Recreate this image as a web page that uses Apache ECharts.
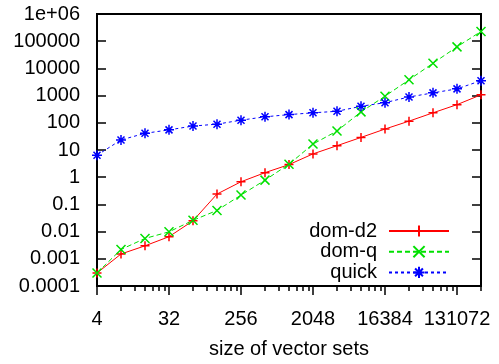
<!DOCTYPE html>
<html><head><meta charset="utf-8">
<script src="https://cdn.jsdelivr.net/npm/echarts@6/dist/echarts.min.js"></script>
<style>html,body{margin:0;padding:0;background:#fff}#c{width:499px;height:364px}</style>
</head><body><div id="c"></div>
<script>
var sizes = [4,8,16,32,64,128,256,512,1024,2048,4096,8192,16384,32768,65536,131072,262144];
var domD2 = [0.0003,0.0015,0.003,0.0065,0.025,0.24,0.68,1.47,2.9,7.2,14.4,29,59,115,233,465,1070];
var domQ  = [0.0003,0.0022,0.0056,0.0098,0.026,0.06,0.22,0.78,3.0,16.5,50,252,950,3800,15500,62000,229000];
var quick = [6.4,23.5,41,55,76,89,125,166,200,233,265,405,550,890,1260,1770,3530];
var xTickValues = [4,32,256,2048,16384,131072];
var xTickLabels = ['4','32','256','2048','16384','131072'];
var yTickValues = [1e-4,1e-3,1e-2,1e-1,1,10,100,1000,1e4,1e5,1e6];
var yTickLabels = ['0.0001','0.001','0.01','0.1','1','10','100','1000','10000','100000','1e+06'];
var seriesNames = ['dom-d2','dom-q','quick'];

var xMinor = [];
xTickValues.forEach(function(b){ for (var k=2;k<=7;k++){ var v=b*k; if (v<=262144) xMinor.push(v);} });

var FONT = '"Liberation Sans", Arial, sans-serif';
var PLUS = 'path://M0,5 L10,5 M5,0 L5,10';
var CROSS = 'path://M0,0 L10,10 M0,10 L10,0';
var STAR = 'path://M0,5 L10,5 M5,0 L5,10 M1.5,1.5 L8.5,8.5 M1.5,8.5 L8.5,1.5';

function mk(name, data, color, sym, dash, size){
  return {
    name: name, type: 'line', xAxisIndex: 0, yAxisIndex: 0,
    data: sizes.map(function(s,i){return [s, data[i]];}),
    symbol: sym, symbolSize: size, showSymbol: true,
    lineStyle: {color: color, width: 1, type: dash},
    itemStyle: {color: 'rgba(0,0,0,0)', borderColor: color, borderWidth: 1.5},
    emphasis: {disabled: true}, animation: false
  };
}

var chart = echarts.init(document.getElementById('c'), null, {renderer: 'canvas'});
chart.setOption({
  animation: false,
  grid: {left: 97, right: 18, top: 14, bottom: 74, show: true, borderColor: '#000', borderWidth: 2, backgroundColor: 'transparent'},
  legend: {
    orient: 'vertical', right: 44, top: 216, align: 'right',
    itemWidth: 60, itemHeight: 14, itemGap: 0.7,
    data: seriesNames,
    textStyle: {fontFamily: FONT, fontSize: 20, color: '#000', padding: [0, 7, 0, 0], lineHeight: 20},
    selectedMode: false
  },
  xAxis: [{
    type: 'log', logBase: 2, min: 4, max: 262144,
    axisLine: {show: false},
    axisTick: {show: true, inside: false, length: 9, lineStyle: {color: '#000', width: 1.5}, customValues: xTickValues},
    axisLabel: {customValues: xTickValues, margin: 23, fontFamily: FONT, fontSize: 20, color: '#000',
      formatter: function(v){ var i = xTickValues.indexOf(Math.round(v)); return i>=0 ? xTickLabels[i] : ''; }},
    splitLine: {show: false},
    name: 'size of vector sets', nameLocation: 'middle', nameGap: 53,
    nameTextStyle: {fontFamily: FONT, fontSize: 20, color: '#000'}
  },{
    type: 'log', logBase: 2, min: 4, max: 262144, position: 'bottom',
    axisLine: {show: false},
    axisTick: {show: true, inside: false, length: 5, lineStyle: {color: '#000', width: 1.5}, customValues: xMinor},
    axisLabel: {show: false}, splitLine: {show: false}
  }],
  yAxis: [{
    type: 'log', logBase: 10, min: 1e-4, max: 1e6,
    axisLine: {show: false},
    axisTick: {show: true, inside: true, length: 9, lineStyle: {color: '#000', width: 1.5}, customValues: yTickValues},
    axisLabel: {customValues: yTickValues, margin: 17, fontFamily: FONT, fontSize: 20, color: '#000',
      formatter: function(v){ var e = Math.round(Math.log10(v)); return yTickLabels[e+4]; }},
    splitLine: {show: false}
  },{
    type: 'log', logBase: 10, min: 1e-4, max: 1e6, position: 'right',
    axisLine: {show: false},
    axisTick: {show: true, inside: true, length: 9, lineStyle: {color: '#000', width: 1.5}, customValues: yTickValues},
    axisLabel: {show: false}, splitLine: {show: false}
  }],
  series: [
    mk('dom-d2', domD2, '#ff0000', PLUS, 'solid', 9),
    mk('dom-q', domQ, '#00e000', CROSS, [5,3], 9),
    mk('quick', quick, '#0000ff', STAR, [3,3], 10)
  ]
});
</script></body></html>
